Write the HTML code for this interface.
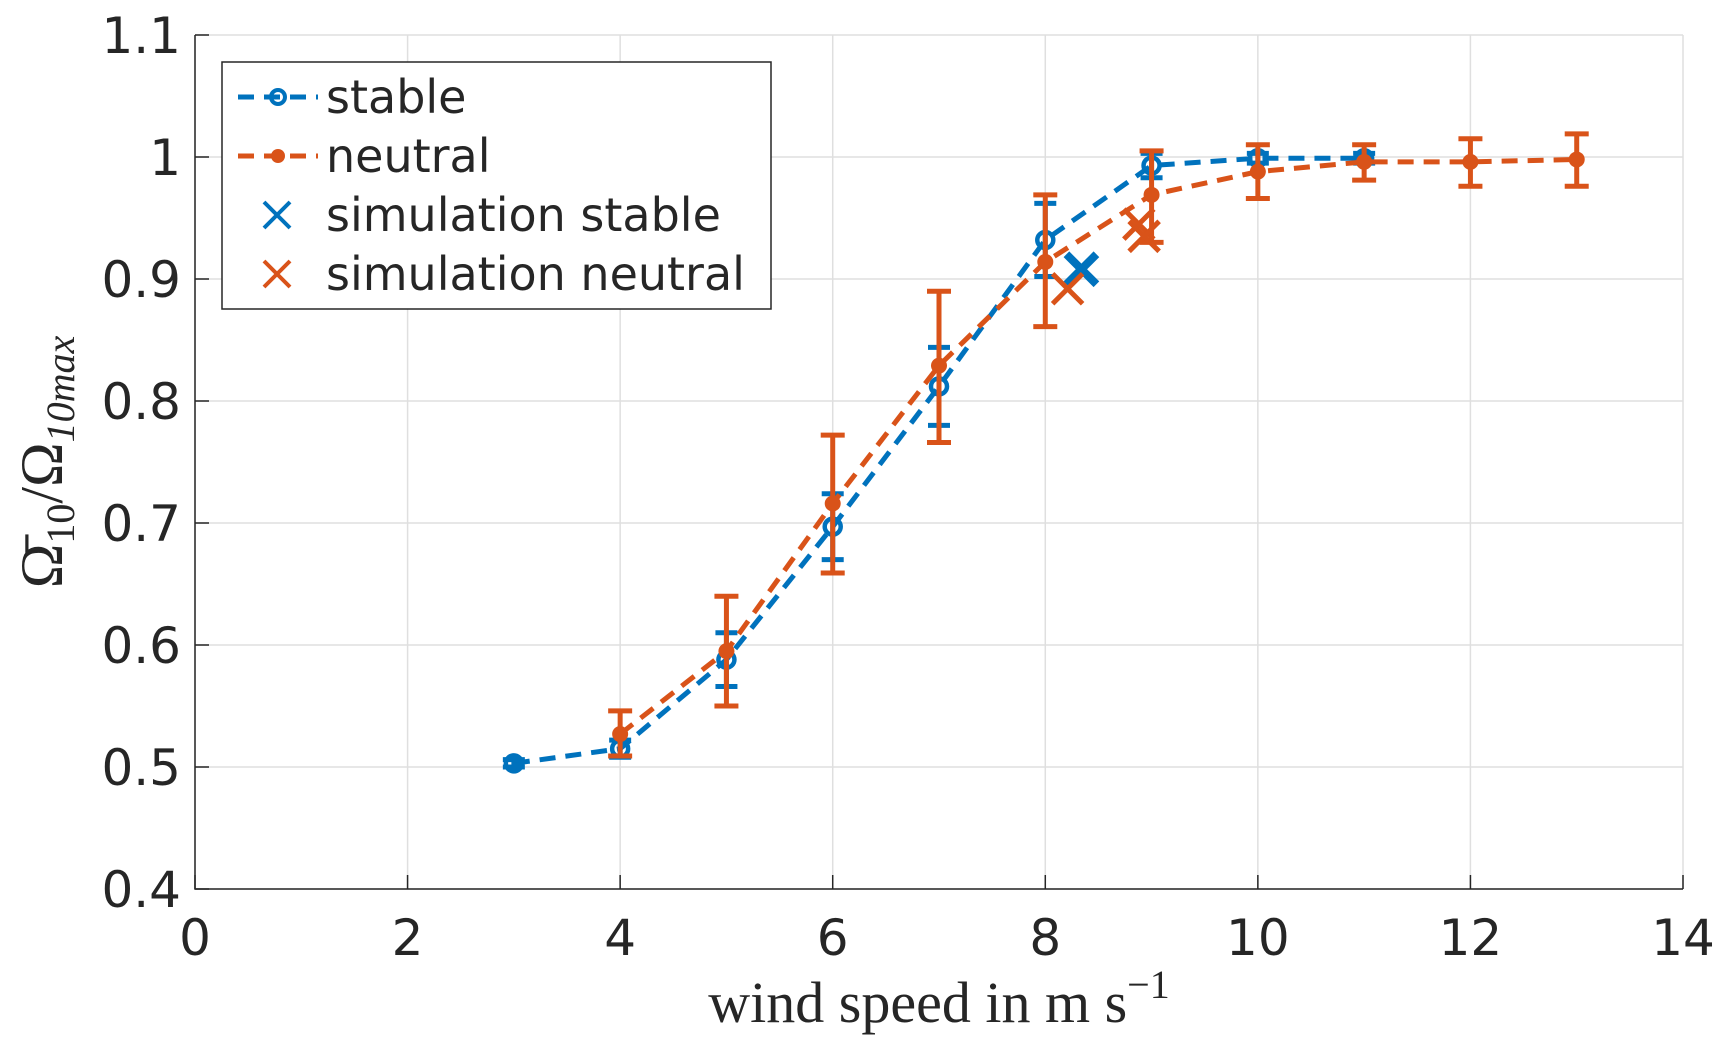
<!DOCTYPE html>
<html><head><meta charset="utf-8"><style>
body{margin:0;background:#fff}
svg{display:block}
text{font-family:"DejaVu Sans","Liberation Sans",sans-serif;fill:#262626}
</style></head><body>
<svg id="chart" width="1729" height="1049" viewBox="0 0 1729 1049" xmlns="http://www.w3.org/2000/svg">
<g id="grid"></g>
<g id="axes"></g>
<g id="series"></g>
<text x="939" y="1022" text-anchor="middle" style="font-family:'Liberation Serif',serif;font-size:58px">wind speed in m s<tspan dy="-24" font-size="40">−1</tspan></text>
<text transform="translate(62,462) rotate(-90)" text-anchor="middle" style="font-family:'Liberation Serif',serif;font-size:60px">Ω̄<tspan dy="12" font-size="40">10</tspan><tspan dy="-12">/Ω</tspan><tspan dy="12" font-size="40" font-style="italic">10max</tspan></text>
<g>
<rect x="222" y="62" width="549" height="247" fill="#fff" stroke="#262626" stroke-width="1.5"/>
<g>
<line x1="238" y1="97" x2="318" y2="97" stroke="#0072BD" stroke-width="5" stroke-dasharray="16,10"/>
<circle cx="278" cy="97" r="7" fill="none" stroke="#0072BD" stroke-width="4"/>
<text x="326" y="113" font-size="46">stable</text></g>
<g>
<line x1="238" y1="156" x2="318" y2="156" stroke="#D95319" stroke-width="5" stroke-dasharray="16,10"/>
<circle cx="278" cy="156" r="7" fill="#D95319"/>
<text x="326" y="172" font-size="46">neutral</text></g>
<g>
<path d="M264,202 L290,228 M290,202 L264,228" stroke="#0072BD" stroke-width="4"/>
<text x="326" y="231" font-size="46">simulation stable</text></g>
<g>
<path d="M264,261 L290,287 M290,261 L264,287" stroke="#D95319" stroke-width="4"/>
<text x="326" y="290" font-size="46">simulation neutral</text></g>
</g>
</svg>
<script>
const xTicks=[0,2,4,6,8,10,12,14];
const yTicks=[0.4,0.5,0.6,0.7,0.8,0.9,1,1.1];
const yTickLabels=["0.4","0.5","0.6","0.7","0.8","0.9","1","1.1"];
const stableX=[3,4,5,6,7,8,9,10,11];
const stableY=[0.503,0.515,0.588,0.697,0.812,0.932,0.993,0.999,0.999];
const stableErr=[0.003,0.007,0.022,0.027,0.032,0.03,0.01,0.004,0.004];
const neutralX=[4,5,6,7,8,9,10,11,12,13];
const neutralY=[0.527,0.595,0.716,0.829,0.914,0.969,0.988,0.996,0.996,0.998];
const neutralLo=[0.509,0.550,0.659,0.766,0.861,0.930,0.966,0.981,0.976,0.976];
const neutralHi=[0.546,0.640,0.772,0.890,0.969,1.005,1.010,1.010,1.015,1.019];
const simStableX=[8.34];
const simStableY=[0.908];
const simNeutralX=[8.21,8.88,8.93];
const simNeutralY=[0.892,0.945,0.935];

const L=195,R=1683,T=35,B=889;
const sx=v=>L+(v-0)/14*(R-L);
const sy=v=>B-(v-0.4)/0.7*(B-T);
const NS="http://www.w3.org/2000/svg";
function mk(tag,attrs,parent){const e=document.createElementNS(NS,tag);for(const k in attrs)e.setAttribute(k,attrs[k]);parent.appendChild(e);return e;}
const grid=document.getElementById('grid'),axes=document.getElementById('axes'),ser=document.getElementById('series');
xTicks.forEach(t=>{
 const g=mk('line',{x1:sx(t),x2:sx(t),y1:T,y2:B,stroke:'#dfdfdf','stroke-width':1.5},grid);
 
 
 mk('line',{x1:sx(t),x2:sx(t),y1:B,y2:B-14,stroke:'#262626','stroke-width':1.5},axes);
 const tx=mk('text',{x:sx(t),y:B+66,'text-anchor':'middle','font-size':50},axes);
 tx.textContent=t;
 
 
});
yTicks.forEach((t,i)=>{
 const g=mk('line',{x1:L,x2:R,y1:sy(t),y2:sy(t),stroke:'#dfdfdf','stroke-width':1.5},grid);
 
 
 mk('line',{x1:L,x2:L+14,y1:sy(t),y2:sy(t),stroke:'#262626','stroke-width':1.5},axes);
 const tx=mk('text',{x:L-14,y:sy(t)+18,'text-anchor':'end','font-size':50},axes);
 tx.textContent=yTickLabels[i];
 
 
});
mk('path',{d:`M${L},${T} L${L},${B} L${R},${B}`,fill:'none',stroke:'#262626','stroke-width':1.5},axes);

function line(xs,ys,col,name){
 const p=mk('polyline',{points:xs.map((x,i)=>sx(x)+','+sy(ys[i])).join(' '),fill:'none',stroke:col,'stroke-width':5,'stroke-dasharray':'16,10'},ser);
 
 
}
function errbar(x,lo,hi,col,w,name){
 const g=mk('g',{stroke:col,'stroke-width':5},ser);
 
 
 mk('line',{x1:sx(x),x2:sx(x),y1:sy(lo),y2:sy(hi)},g);
 mk('line',{x1:sx(x)-w,x2:sx(x)+w,y1:sy(lo),y2:sy(lo)},g);
 mk('line',{x1:sx(x)-w,x2:sx(x)+w,y1:sy(hi),y2:sy(hi)},g);
}
line(stableX,stableY,'#0072BD','stable-line');
stableX.forEach((x,i)=>errbar(x,stableY[i]-stableErr[i],stableY[i]+stableErr[i],'#0072BD',11,'stable-errorbar'));
stableX.forEach((x,i)=>{const c=mk('circle',{cx:sx(x),cy:sy(stableY[i]),r:8,fill:'none',stroke:'#0072BD','stroke-width':4.5},ser);
 
 });
line(neutralX,neutralY,'#D95319','neutral-line');
neutralX.forEach((x,i)=>errbar(x,neutralLo[i],neutralHi[i],'#D95319',12,'neutral-errorbar'));
neutralX.forEach((x,i)=>{const c=mk('circle',{cx:sx(x),cy:sy(neutralY[i]),r:8,fill:'#D95319'},ser);
 
 });
function cross(x,y,col,sw,s,name){
 const p=mk('path',{d:`M${sx(x)-s},${sy(y)-s} L${sx(x)+s},${sy(y)+s} M${sx(x)+s},${sy(y)-s} L${sx(x)-s},${sy(y)+s}`,stroke:col,'stroke-width':sw},ser);
 
 
}
simStableX.forEach((x,i)=>cross(x,simStableY[i],'#0072BD',8,15,'simulation-stable-marker'));
simNeutralX.forEach((x,i)=>cross(x,simNeutralY[i],'#D95319',5,15,'simulation-neutral-marker'));
</script>
</body></html>
